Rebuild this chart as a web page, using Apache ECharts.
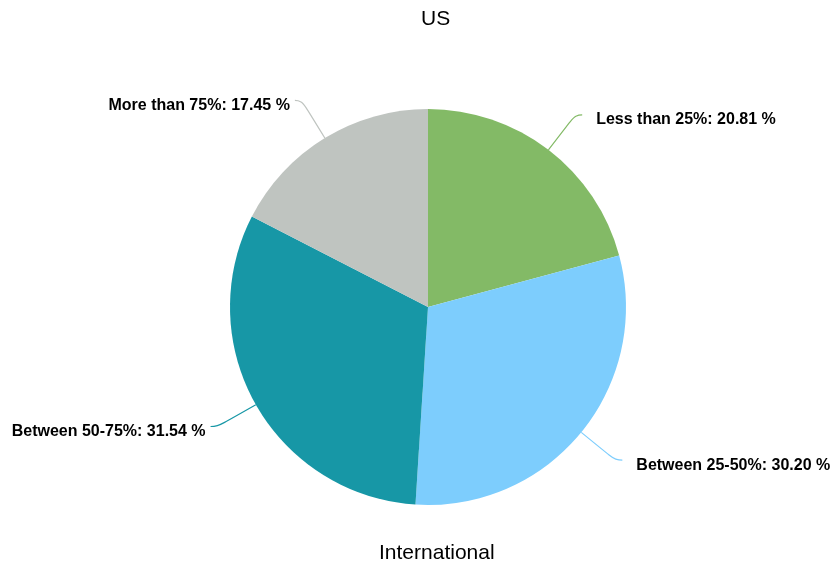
<!DOCTYPE html>
<html lang="en">
<head>
    <meta charset="UTF-8">
    <title>US</title>
    <script src="https://cdn.jsdelivr.net/npm/echarts@6/dist/echarts.min.js"></script>
    <style>
        html, body { margin: 0; padding: 0; background: #fff; }
        #chart { width: 830px; height: 569px; }
    </style>
</head>
<body>
    <div id="chart"></div>
    <script>
        var categories = ['Less than 25%', 'Between 25-50%', 'Between 50-75%', 'More than 75%'];
        var shares = [20.81, 30.20, 31.54, 17.45];
        var colors = ['#83ba66', '#7dcdfd', '#1797a6', '#bfc4c0'];

        var chart = echarts.init(document.getElementById('chart'));
        var titleFont = { fontFamily: 'Liberation Sans', fontSize: 21, fontWeight: 'normal', color: '#000' };
        var option = {
            animation: false,
            title: [
                { text: 'US', left: 421, top: 9, padding: 0, textStyle: titleFont },
                { text: 'International', left: 379, top: 543, padding: 0, textStyle: titleFont }
            ],
            series: [{
                type: 'pie',
                center: [428, 307],
                radius: 198,
                startAngle: 90,
                clockwise: true,
                data: categories.map(function (c, i) {
                    return { name: c, value: shares[i], itemStyle: { color: colors[i] } };
                }),
                label: {
                    formatter: function (p) { return p.name + ': ' + p.value.toFixed(2) + ' %'; },
                    fontFamily: 'Liberation Sans',
                    fontSize: 16,
                    fontWeight: 'bold',
                    color: '#000',
                    overflow: 'none',
                    distanceToLabelLine: 9
                },
                labelLayout: function (params) {
                    return { dy: 5, dx: params.labelRect.x < 428 ? 4 : 5 };
                },
                labelLine: {
                    length: 44,
                    length2: 7,
                    smooth: 0.5,
                    lineStyle: { width: 1.2 }
                },
                emphasis: { disabled: true }
            }]
        };
        chart.setOption(option);
    </script>
</body>
</html>
